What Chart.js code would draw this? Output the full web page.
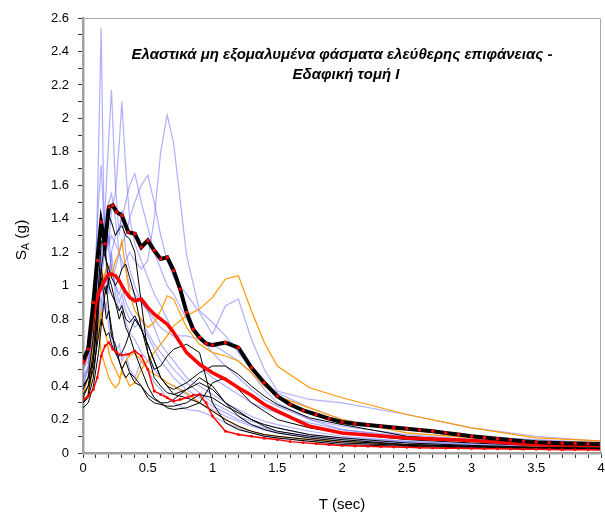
<!DOCTYPE html>
<html>
<head>
<meta charset="utf-8">
<script src="https://cdn.jsdelivr.net/npm/chart.js@4.4.1/dist/chart.umd.min.js"></script>
<style>
  html, body { margin: 0; padding: 0; background: #fff; }
  #wrap { width: 605px; height: 515px; }
</style>
</head>
<body>
<div id="wrap"><canvas id="spectraChart" width="605" height="515"></canvas></div>
<script>
// periods (sec) shared by the individual records
const periods = [0,0.04,0.08,0.1,0.12,0.14,0.16,0.18,0.2,0.22, 0.25,0.28,0.3,0.33,0.36,0.4,0.45,0.5,0.55,0.6,
  0.65,0.7,0.8,0.9,1.0,1.1,1.2,1.3,1.4,1.5, 1.75,2.0,2.5,3.0,3.5,4.0];

// finer periods for the two marked statistic curves
const periodsFine = [0,0.04,0.08,0.11,0.14,0.17,0.2,0.23,0.26,
  0.3,0.35,0.4,0.45,0.5,0.55,0.6,0.65,0.7,0.75,0.8,0.85,0.9,0.95,1.0,
  1.1,1.2,1.3,1.4,1.5,1.6,1.7,1.8,1.9,2.0,2.1,2.2,2.3,2.4,2.5,2.6,2.7,2.8,2.9,3.0,
  3.1,3.2,3.3,3.4,3.5,3.6,3.7,3.8,3.9,4.0];

// light blue records
const blue1 = [0.38,0.45,0.7,1.1,1.8,2.54,1.5,1.1,0.95,1.2, 0.95,0.85,0.9,0.78,0.72,0.68,0.6,0.55,0.5,0.45, 0.42,0.4,0.35,0.3,0.26,0.22,0.19,0.16,0.14,0.12, 0.09,0.07,0.05,0.04,0.03,0.025];
const blue2 = [0.42,0.5,0.75,0.9,1.1,1.4,1.3,1.6,1.9,2.17, 1.6,1.3,1.45,1.2,1.1,1.0,0.9,0.85,0.75,0.65, 0.6,0.55,0.45,0.4,0.35,0.3,0.26,0.22,0.19,0.17, 0.13,0.1,0.07,0.055,0.045,0.035];
const blue3 = [0.45,0.52,0.65,0.8,0.95,1.05,1.15,1.35,1.25,1.45, 1.55,1.85,2.1,1.7,1.4,1.25,1.15,1.05,0.95,0.88, 0.8,0.72,0.6,0.52,0.45,0.4,0.35,0.3,0.27,0.24, 0.18,0.14,0.1,0.08,0.06,0.05];
const blue4 = [0.5,0.58,0.8,0.95,1.05,1.15,1.25,1.35,1.25,1.3, 1.25,1.2,1.1,1.15,1.2,1.15,1.1,1.15,1.4,1.8, 2.02,1.85,1.18,0.85,0.78,0.7,0.6,0.5,0.42,0.36, 0.27,0.2,0.14,0.1,0.08,0.06];
const blue5 = [0.4,0.5,0.9,1.2,1.5,1.72,1.4,1.2,1.3,1.1, 1.0,0.95,1.0,0.9,0.85,0.8,0.75,0.7,0.62,0.55, 0.5,0.45,0.38,0.33,0.28,0.24,0.2,0.17,0.15,0.13, 0.1,0.08,0.06,0.045,0.035,0.03];
const blue6 = [0.45,0.5,0.6,0.7,0.8,0.9,1.0,1.1,1.05,1.2, 1.3,1.35,1.4,1.5,1.6,1.67,1.5,1.35,1.2,1.1, 1.0,0.95,0.8,0.7,0.6,0.52,0.45,0.38,0.32,0.28, 0.2,0.16,0.11,0.08,0.06,0.05];
const blue7 = [0.4,0.45,0.55,0.65,0.75,0.85,0.95,1.0,1.1,1.05, 1.1,1.2,1.25,1.3,1.4,1.5,1.6,1.66,1.5,1.3, 1.15,1.05,0.95,0.84,0.71,0.88,0.92,0.68,0.5,0.37, 0.32,0.3,0.23,0.15,0.1,0.07];
const blue8 = [0.55,0.6,0.8,1.0,1.2,1.1,1.25,1.3,1.2,1.1, 1.0,0.9,0.95,0.85,0.8,0.75,0.8,0.72,0.65,0.6, 0.55,0.5,0.42,0.36,0.3,0.26,0.22,0.19,0.17,0.15, 0.11,0.09,0.07,0.05,0.04,0.035];
const blue9 = [0.4,0.45,0.7,0.85,1.0,0.9,0.85,0.9,0.75,0.7, 0.6,0.65,0.55,0.6,0.5,0.45,0.55,0.5,0.42,0.38, 0.33,0.3,0.26,0.25,0.22,0.18,0.15,0.12,0.1,0.09, 0.07,0.06,0.045,0.035,0.03,0.025];
const blue10 = [0.5,0.55,0.7,0.8,1.0,1.2,1.3,1.45,1.5,1.55, 1.4,1.2,1.15,1.1,1.0,0.95,0.9,0.85,0.8,0.75, 0.72,0.7,0.7,0.68,0.65,0.6,0.55,0.48,0.38,0.3, 0.2,0.14,0.09,0.07,0.05,0.04];

// black records
const black1 = [0.38,0.45,0.7,0.95,1.2,1.37,1.2,1.3,1.42,1.38, 1.3,1.34,1.36,1.3,1.28,1.2,0.9,0.6,0.45,0.4, 0.36,0.35,0.38,0.45,0.4,0.3,0.22,0.17,0.14,0.12, 0.09,0.07,0.05,0.04,0.03,0.025];
const black2 = [0.33,0.4,0.6,0.8,1.0,1.25,1.3,1.15,1.1,1.05, 1.0,1.05,1.1,1.13,1.05,0.94,0.75,0.6,0.5,0.52, 0.58,0.62,0.65,0.6,0.3,0.18,0.14,0.12,0.1,0.09, 0.07,0.05,0.04,0.03,0.025,0.02];
const black3 = [0.3,0.35,0.55,0.75,0.95,1.1,1.2,1.15,1.0,0.95, 0.9,0.85,0.88,0.8,0.78,0.82,0.74,0.65,0.55,0.45, 0.4,0.38,0.42,0.48,0.52,0.52,0.47,0.4,0.34,0.29, 0.21,0.17,0.1,0.07,0.05,0.04];
const black4 = [0.4,0.45,0.55,0.7,0.9,1.05,0.95,0.8,0.85,0.7, 0.65,0.55,0.5,0.55,0.48,0.45,0.4,0.35,0.32,0.3, 0.3,0.32,0.38,0.42,0.38,0.3,0.25,0.2,0.17,0.15, 0.11,0.09,0.06,0.045,0.035,0.03];
const black5 = [0.27,0.3,0.4,0.5,0.6,0.75,0.9,1.0,0.85,0.75, 0.6,0.55,0.5,0.45,0.48,0.42,0.4,0.33,0.3,0.29, 0.28,0.28,0.3,0.35,0.33,0.28,0.24,0.2,0.16,0.13, 0.1,0.08,0.05,0.04,0.03,0.025];
const black6 = [0.35,0.4,0.5,0.6,0.7,0.8,0.75,0.7,0.72,0.65, 0.6,0.58,0.6,0.65,0.72,0.8,0.74,0.65,0.55,0.45, 0.4,0.35,0.33,0.3,0.25,0.2,0.16,0.13,0.11,0.1, 0.08,0.06,0.045,0.035,0.03,0.025];
const black7 = [0.3,0.33,0.45,0.6,0.85,1.1,1.0,0.95,1.05,1.0, 0.9,0.8,0.85,0.75,0.7,0.6,0.5,0.4,0.33,0.3, 0.27,0.26,0.27,0.3,0.42,0.45,0.38,0.3,0.25,0.2, 0.15,0.12,0.08,0.06,0.045,0.035];

// orange records
const orange1 = [0.3,0.35,0.5,0.6,0.75,0.85,0.75,0.7,0.6,0.55, 0.5,0.45,0.48,0.45,0.4,0.42,0.5,0.55,0.6,0.65, 0.7,0.76,0.82,0.86,0.93,1.04,1.06,0.85,0.66,0.52, 0.39,0.33,0.23,0.15,0.09,0.072];
const orange2 = [0.35,0.45,0.7,0.85,1.0,1.1,1.05,1.1,1.12,1.05, 1.15,1.2,1.27,1.1,0.95,0.85,0.8,0.75,0.78,0.85, 0.94,0.92,0.75,0.65,0.6,0.58,0.55,0.48,0.4,0.34, 0.27,0.2,0.12,0.09,0.07,0.06];
const orange3 = [0.3,0.35,0.65,0.85,0.75,0.6,0.55,0.5,0.45,0.42, 0.39,0.42,0.5,0.55,0.58,0.6,0.55,0.5,0.47,0.45, 0.42,0.4,0.36,0.3,0.25,0.2,0.16,0.13,0.11,0.1, 0.08,0.07,0.05,0.04,0.035,0.03];

// statistics
const meanSpectrum = [0.53,0.62,0.82,0.9,0.95,0.99,1.02,1.05,1.07,1.07, 1.06,1.03,1.0,0.96,0.93,0.91,0.92,0.87,0.83,0.8, 0.77,0.72,0.6,0.53,0.48,0.44,0.39,0.345,0.29,0.25, 0.16,0.12,0.09,0.075,0.05,0.045];
const upperSpectrum = [0.55,0.62,0.9,1.15,1.38,1.25,1.47,1.48,1.44,
  1.42,1.32,1.31,1.23,1.27,1.21,1.16,1.17,1.09,0.98,0.84,0.74,0.69,0.655,0.645,
  0.66,0.63,0.51,0.42,0.34,0.29,0.255,0.23,0.205,0.185,0.175,0.168,0.16,0.152,0.145,0.138,0.13,0.12,0.11,0.1,
  0.092,0.085,0.078,0.07,0.065,0.062,0.059,0.057,0.055,0.054];
const lowerSpectrum = [0.32,0.34,0.38,0.45,0.58,0.64,0.66,0.62,0.6,
  0.585,0.59,0.61,0.58,0.5,0.37,0.35,0.33,0.31,0.32,0.33,0.345,0.35,0.3,0.22,
  0.13,0.11,0.1,0.088,0.08,0.068,0.062,0.056,0.05,0.045,0.042,0.04,0.038,0.036,0.034,0.032,0.03,0.029,0.028,0.027,
  0.026,0.025,0.024,0.023,0.022,0.021,0.02,0.02,0.019,0.018];

const blueSeries = [blue1, blue2, blue3, blue4, blue5, blue6, blue7, blue8, blue9, blue10];
const blackSeries = [black1, black2, black3, black4, black5, black6, black7];
const orangeSeries = [orange1, orange2, orange3];

const titleLines = ["Ελαστικά μη εξομαλυμένα φάσματα ελεύθερης επιφάνειας -", "Εδαφική τομή Ι"];
const FONT = "'Liberation Sans', Arial, sans-serif";

function toPoints(xs, ys) {
  return xs.map((t, i) => ({ x: t, y: ys[i] }));
}

function record(values, color, width, order) {
  return {
    data: toPoints(periods, values),
    borderColor: color,
    borderWidth: width,
    pointRadius: 0,
    tension: 0,
    order: order
  };
}

const datasets = [];
blueSeries.forEach(v => datasets.push(record(v, "rgba(110,110,255,0.55)", 1.2, 5)));
orangeSeries.forEach(v => datasets.push(record(v, "#ff9900", 1.2, 4)));
blackSeries.forEach(v => datasets.push(record(v, "#000000", 1, 3)));

datasets.push({
  data: toPoints(periods, meanSpectrum),
  borderColor: "#ff0000", borderWidth: 3.5, pointRadius: 0, tension: 0, order: 1
});
datasets.push({
  data: toPoints(periodsFine, lowerSpectrum),
  borderColor: "#ff0000", borderWidth: 1.5, tension: 0, order: 2,
  pointStyle: "rect", pointRadius: 1.8, pointBackgroundColor: "#ff0000", pointBorderWidth: 0
});
datasets.push({
  data: toPoints(periodsFine, upperSpectrum),
  borderColor: "#000000", borderWidth: 4, tension: 0, order: 0,
  pointStyle: "rect", pointRadius: 2.2, pointBackgroundColor: "#ff0000", pointBorderWidth: 0
});

const decorations = {
  id: "decorations",
  afterDraw(chart) {
    const { ctx, chartArea: a } = chart;
    ctx.save();

    // frame on top and right
    ctx.strokeStyle = "#a8a8a8";
    ctx.lineWidth = 1;
    ctx.beginPath();
    ctx.moveTo(a.left, a.top + 0.5);
    ctx.lineTo(a.right - 0.5, a.top + 0.5);
    ctx.lineTo(a.right - 0.5, a.bottom);
    ctx.stroke();

    // title inside plot
    ctx.fillStyle = "#000";
    ctx.textAlign = "center";
    ctx.textBaseline = "middle";
    ctx.font = "italic bold 15px " + FONT;
    const cx = (a.left + a.right) / 2;
    ctx.fillText(titleLines[0], cx, 55);
    ctx.fillText(titleLines[1], cx + 4, 75);

    // x axis title
    ctx.font = "15px " + FONT;
    ctx.fillText("T (sec)", cx, 505);

    // y axis title with subscript
    ctx.translate(22, 240);
    ctx.rotate(-Math.PI / 2);
    ctx.textAlign = "left";
    const big = "15.5px " + FONT, small = "10.5px " + FONT;
    ctx.font = big;
    const wS = ctx.measureText("S").width;
    const wG = ctx.measureText(" (g)").width;
    ctx.font = small;
    const wA = ctx.measureText("A").width;
    let x = -(wS + wA + wG) / 2;
    ctx.font = big;
    ctx.fillText("S", x, 0);
    x += wS;
    ctx.font = small;
    ctx.fillText("A", x, 4);
    x += wA;
    ctx.font = big;
    ctx.fillText(" (g)", x, 0);
    ctx.restore();
  }
};

new Chart(document.getElementById("spectraChart"), {
  type: "line",
  data: { datasets: datasets },
  options: {
    responsive: false,
    animation: false,
    devicePixelRatio: 1,
    layout: { padding: { top: 18, right: 2, left: 0, bottom: 0 } },
    plugins: { legend: { display: false }, tooltip: { enabled: false }, title: { display: false } },
    scales: {
      x: {
        type: "linear",
        min: 0, max: 4,
        border: { display: true, color: "#a0a0a0", width: 2.5 },
        grid: { drawOnChartArea: false, drawTicks: true, tickLength: 5, color: "#333" },
        ticks: {
          stepSize: 0.1, autoSkip: false, maxRotation: 0, padding: 3,
          color: "#000", font: { family: FONT, size: 13 },
          callback: v => (Math.round(v * 10) % 5 === 0 ? String(Math.round(v * 10) / 10) : "")
        },
        afterFit(scale) {
          scale.height = 62;
          scale.paddingLeft = 0;
          scale.paddingRight = 0;
        }
      },
      y: {
        min: 0, max: 2.6,
        border: { display: true, color: "#a0a0a0", width: 2.5 },
        grid: { drawOnChartArea: false, drawTicks: true, tickLength: 5, color: "#333" },
        ticks: {
          stepSize: 0.1, autoSkip: false, padding: 9,
          color: "#000", font: { family: FONT, size: 13 },
          callback: v => (Math.round(v * 10) % 2 === 0 ? String(Math.round(v * 10) / 10) : "")
        },
        afterFit(scale) {
          scale.width = 83;
          scale.paddingTop = 0;
          scale.paddingBottom = 0;
        }
      }
    }
  },
  plugins: [decorations]
});
</script>
</body>
</html>
